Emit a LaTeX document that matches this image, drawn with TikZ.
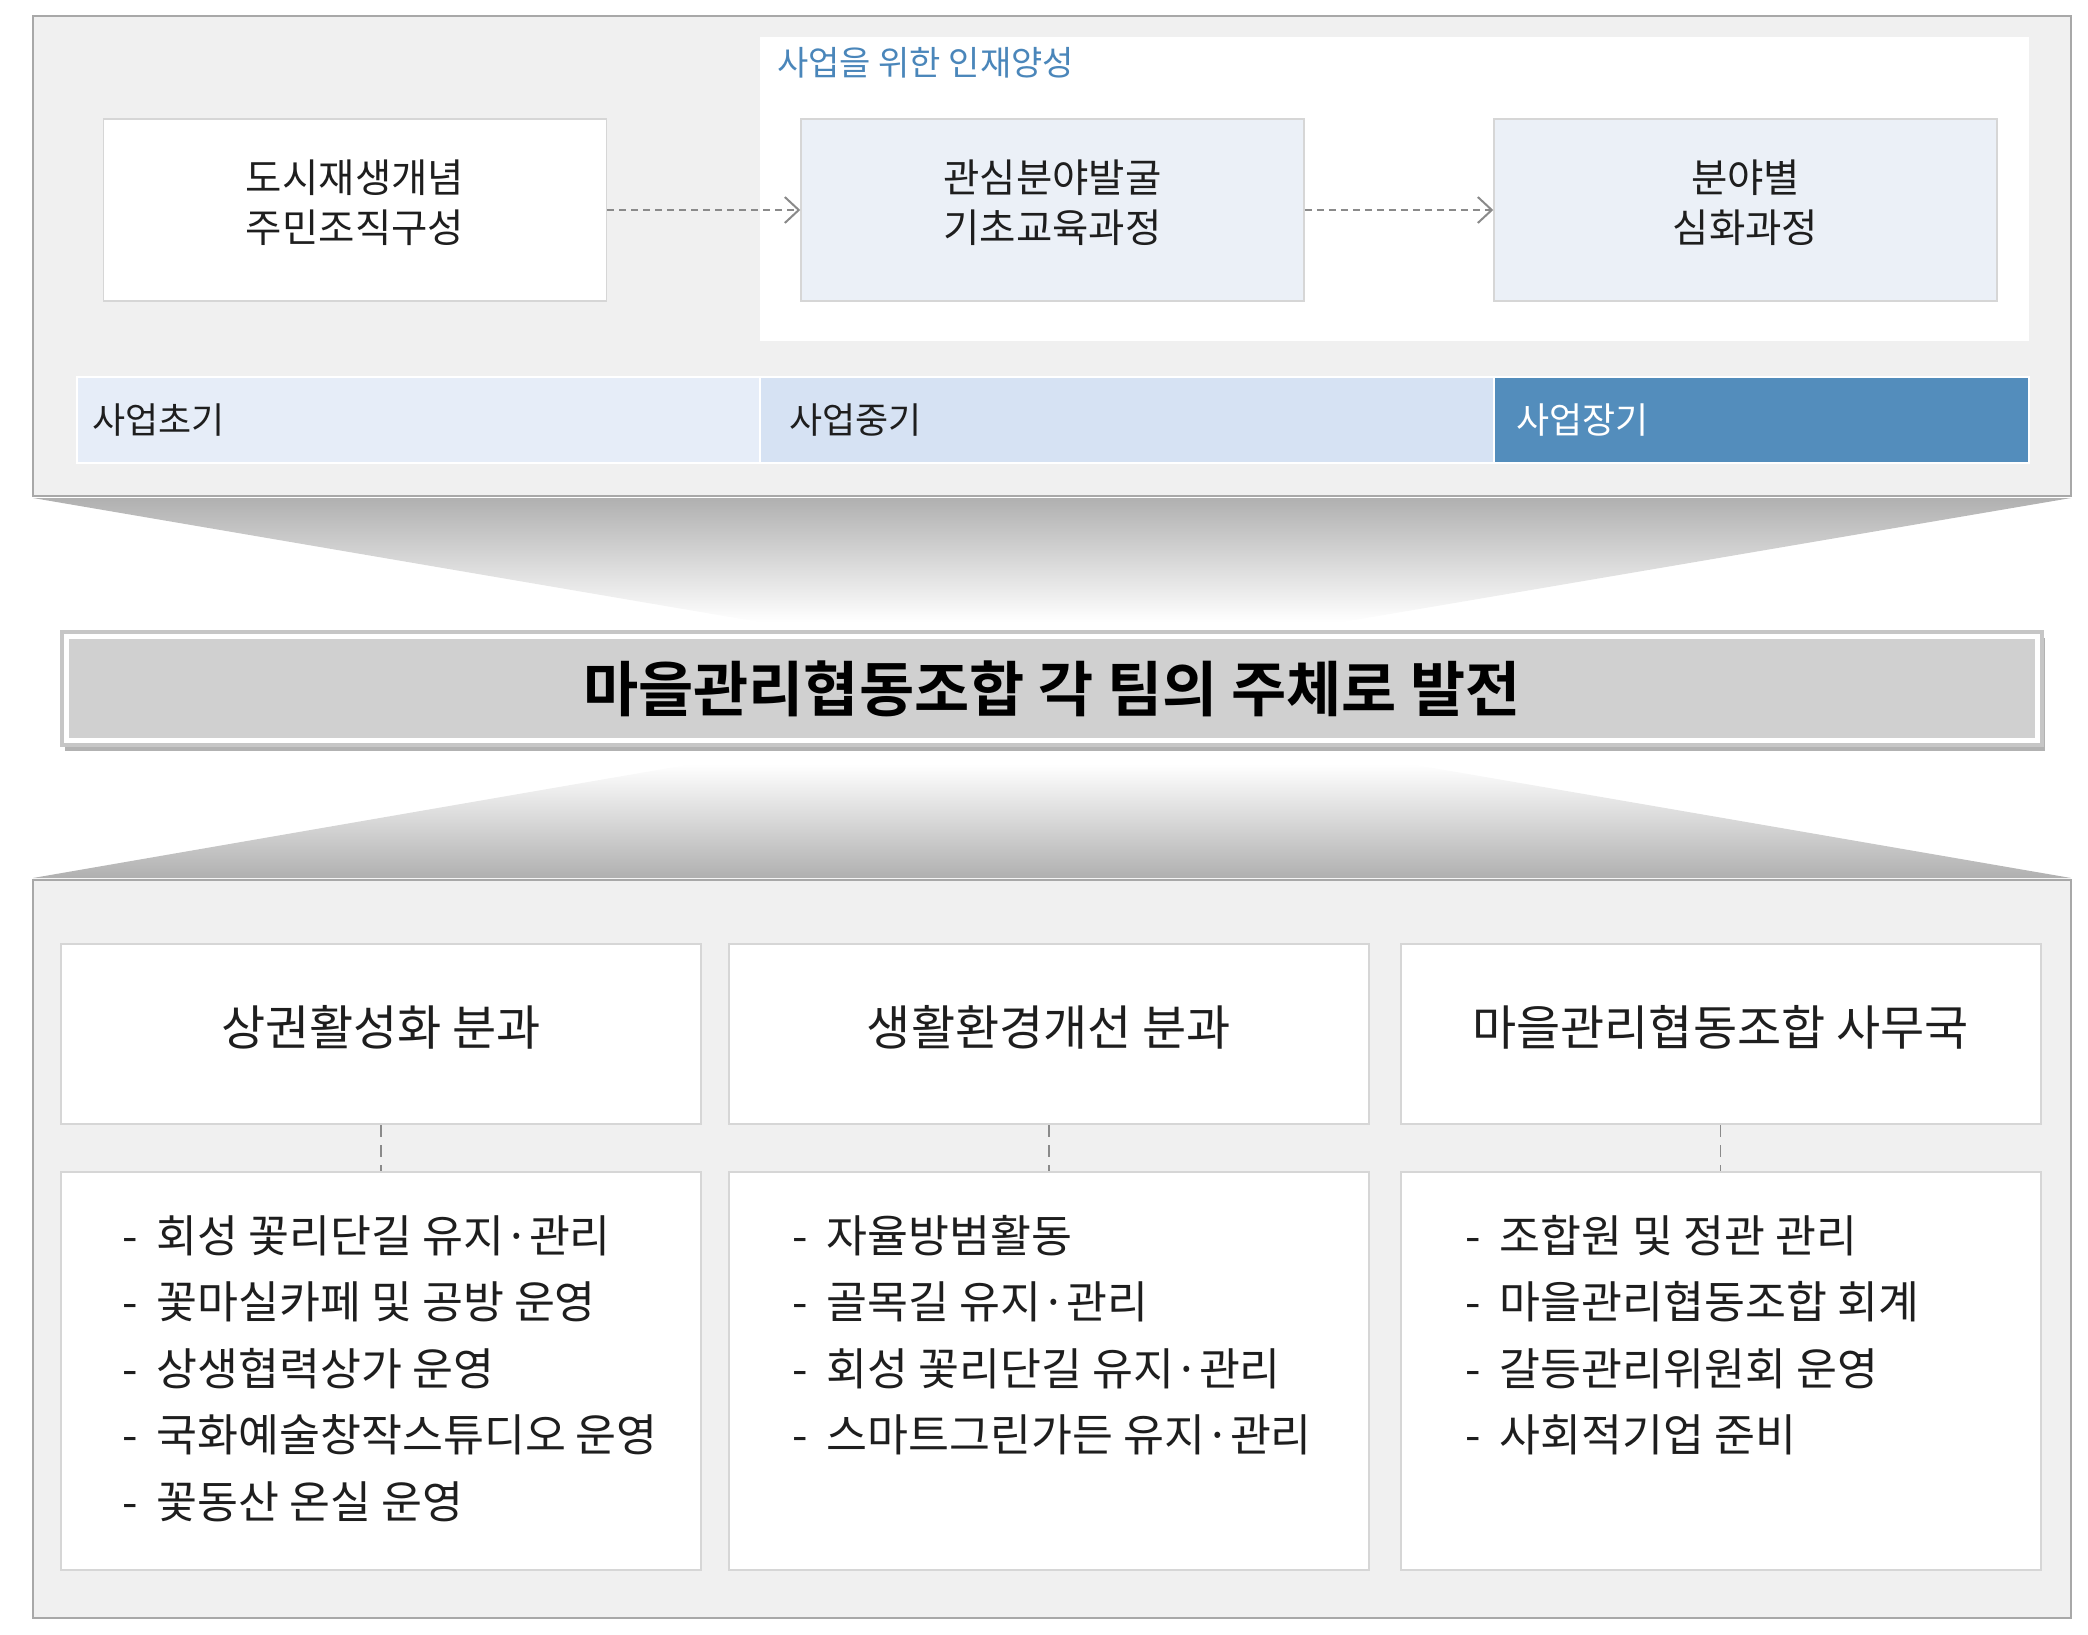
\documentclass[tikz,border=0pt]{standalone}
\usepackage{fontspec}
\setmainfont{Noto Sans CJK KR}[BoldFont={Noto Sans CJK KR Bold}]
\usepackage{tikz}
\usetikzlibrary{arrows.meta, positioning, shadows}
\definecolor{panelgray}{HTML}{F0F0F0}
\definecolor{panelline}{HTML}{A8A8A8}
\definecolor{boxline}{HTML}{D6D6D6}
\definecolor{stageblue}{HTML}{EBF0F7}
\definecolor{phaseA}{HTML}{E6EDF8}
\definecolor{phaseB}{HTML}{D6E2F3}
\definecolor{phaseC}{HTML}{538DBC}
\definecolor{labelblue}{HTML}{4A86BA}
\definecolor{arrowgray}{HTML}{8A8A8A}
\definecolor{funnelgray}{HTML}{B0B0B0}
\definecolor{titlegray}{HTML}{D0D0D0}
\definecolor{titleline}{HTML}{C6C6C6}
\definecolor{textblack}{HTML}{1E1E1E}
\newcommand{\dutydash}{-\hspace{19pt}}
\newcommand{\lift}[1]{\raisebox{7pt}[\height][\depth]{#1}}

\begin{document}
\begin{tikzpicture}[x=1pt, y=-1pt,
	panel/.style={draw=panelline, fill=panelgray, line width=1.5pt},
	stagebox/.style={draw=boxline, line width=1.5pt, minimum width=503pt, minimum height=182pt, align=center, text=textblack, font=\fontsize{39.5}{50}\selectfont},
	flow/.style={draw=arrowgray, line width=2pt, dash pattern=on 7pt off 5pt, -{Straight Barb[length=14pt, width=26pt]}},
	phase/.style={draw=white, line width=2pt, minimum height=86pt, inner sep=0},
	phasetext/.style={inner sep=0, font=\fontsize{36}{40}\selectfont},
	titlebox/.style={fill=titlegray, draw=titleline, line width=4pt, minimum width=1980pt, minimum height=113pt, text=black, font=\fontsize{60}{64}\selectfont\bfseries, drop shadow={shadow xshift=3pt, shadow yshift=-6pt, fill=black, opacity=0.3}},
	teambox/.style={fill=white, draw=boxline, line width=2pt, minimum width=640pt, minimum height=180pt, text=textblack, font=\fontsize{48}{52}\selectfont},
	dutybox/.style={fill=white, draw=boxline, line width=2pt, minimum width=640pt, minimum height=398pt},
	dutytext/.style={anchor=north west, inner sep=0, align=left, text=textblack, font=\fontsize{44.5}{66.5}\selectfont},
	link/.style={draw=arrowgray, line width=1.3pt, dash pattern=on 12pt off 8pt}]
\useasboundingbox (0,0) rectangle (2088,1635);

% Draw upper panel
\draw[panel] (33,16) rectangle (2071,496);
\fill[white] (760,37) rectangle (2029,341);
\node[anchor=west, inner sep=0, text=labelblue, font=\fontsize{34}{40}\selectfont] (talent) at (777,63) {사업을 위한 인재양성};

% Draw stage boxes
\node[stagebox, fill=white] (concept) at (355,210) {\lift{도시재생개념}\\\lift{주민조직구성}};
\node[stagebox, fill=stageblue] (basic) at (1052.5,210) {\lift{관심분야발굴}\\\lift{기초교육과정}};
\node[stagebox, fill=stageblue] (deep) at (1745.5,210) {\lift{분야별}\\\lift{심화과정}};
\draw[flow] (concept) -- (basic);
\draw[flow] (basic) -- (deep);

% Draw phases
\node[phase, fill=phaseA, minimum width=683pt] (early) at (418.5,420) {};
\node[phase, fill=phaseB, minimum width=734pt] (middle) at (1127,420) {};
\node[phase, fill=phaseC, minimum width=535pt] (late) at (1761.5,420) {};
\node[phasetext, text=textblack, right=16pt of early.west] (earlytxt) {사업초기};
\node[phasetext, text=textblack, right=30pt of middle.west] (middletxt) {사업중기};
\node[phasetext, text=white, right=23pt of late.west] (latetxt) {사업장기};

% Draw funnels
\shade[top color=funnelgray, bottom color=white] (33,498) -- (2071,498) -- (1343,622) -- (759,622) -- cycle;
\shade[top color=white, bottom color=funnelgray] (692,764) -- (1410,764) -- (2071,878) -- (33,878) -- cycle;

% Draw goal
\node[titlebox] (goal) at (1052,688.5) {마을관리협동조합 각 팀의 주체로 발전};
\draw[white, line width=5pt] ([shift={(6.5,6.5)}]goal.north west) rectangle ([shift={(-6.5,-6.5)}]goal.south east);

% Draw lower panel
\draw[panel] (33,880) rectangle (2071,1618);

\node[teambox] (shop) at (381,1034) {\lift{상권활성화 분과}};
\node[teambox] (life) at (1049,1034) {\lift{생활환경개선 분과}};
\node[teambox] (office) at (1720.5,1034) {\lift{마을관리협동조합 사무국}};

\node[dutybox] (shopjob) at (381,1371) {};
\node[dutybox] (lifejob) at (1049,1371) {};
\node[dutybox] (officejob) at (1720.5,1371) {};

\draw[link] (shop) -- (shopjob);
\draw[link] (life) -- (lifejob);
\draw[link] (office) -- (officejob);

\node[dutytext] (shoplist) at (122,1215) {\dutydash 회성 꽃리단길 유지·관리\\\dutydash 꽃마실카페 및 공방 운영\\\dutydash 상생협력상가 운영\\\dutydash 국화예술창작스튜디오 운영\\\dutydash 꽃동산 온실 운영};
\node[dutytext] (lifelist) at (792,1215) {\dutydash 자율방범활동\\\dutydash 골목길 유지·관리\\\dutydash 회성 꽃리단길 유지·관리\\\dutydash 스마트그린가든 유지·관리};
\node[dutytext] (officelist) at (1465,1215) {\dutydash 조합원 및 정관 관리\\\dutydash 마을관리협동조합 회계\\\dutydash 갈등관리위원회 운영\\\dutydash 사회적기업 준비};
\end{tikzpicture}
\end{document}
